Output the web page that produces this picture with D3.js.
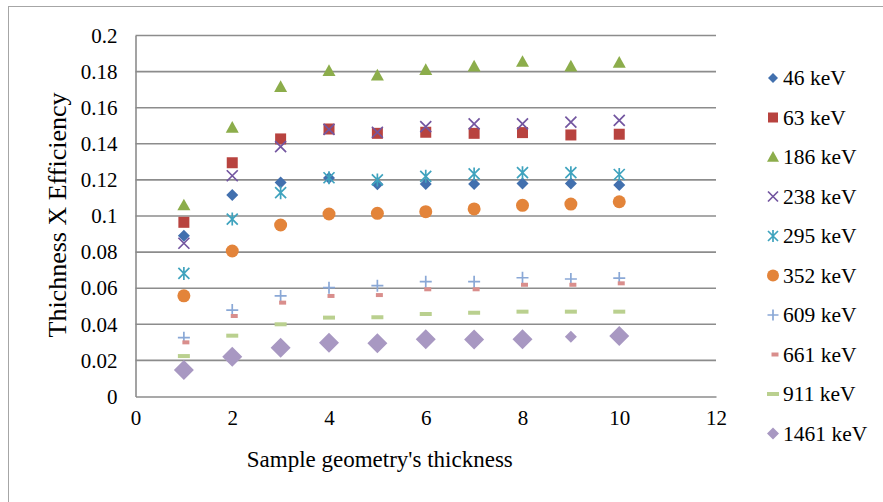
<!DOCTYPE html>
<html>
<head>
<meta charset="utf-8">
<script src="https://cdn.jsdelivr.net/npm/d3@7"></script>
<style>
  body { margin: 0; background: #fff; }
  svg text { font-family: "Liberation Serif", serif; fill: #000; }
</style>
</head>
<body>
<svg id="chartArea" width="883" height="502"></svg>
<script>
// thickness values (x)
const thickness = [1, 2, 3, 4, 5, 6, 7, 8, 9, 10];

// thickness x efficiency per gamma line
const kev46   = [0.0890, 0.1116, 0.1185, 0.1210, 0.1176, 0.1177, 0.1177, 0.1180, 0.1180, 0.1172];
const kev63   = [0.0965, 0.1295, 0.1427, 0.1482, 0.1458, 0.1464, 0.1458, 0.1462, 0.1449, 0.1453];
const kev186  = [0.1060, 0.1490, 0.1716, 0.1805, 0.1780, 0.1810, 0.1830, 0.1855, 0.1830, 0.1850];
const kev238  = [0.0849, 0.1223, 0.1384, 0.1480, 0.1464, 0.1495, 0.1510, 0.1510, 0.1520, 0.1530];
const kev295  = [0.0682, 0.0983, 0.1129, 0.1212, 0.1200, 0.1220, 0.1233, 0.1240, 0.1240, 0.1230];
const kev352  = [0.0558, 0.0806, 0.0950, 0.1011, 0.1015, 0.1024, 0.1039, 0.1059, 0.1066, 0.1079];
const kev609  = [0.0326, 0.0479, 0.0557, 0.0603, 0.0614, 0.0636, 0.0636, 0.0658, 0.0651, 0.0656];
const kev661  = [0.0300, 0.0446, 0.0520, 0.0557, 0.0562, 0.0594, 0.0594, 0.0619, 0.0619, 0.0627];
const kev911  = [0.0224, 0.0337, 0.0400, 0.0437, 0.0439, 0.0457, 0.0464, 0.0470, 0.0470, 0.0470];
const kev1461 = [0.0147, 0.0220, 0.0270, 0.0298, 0.0295, 0.0317, 0.0316, 0.0317, 0.0331, 0.0335];

const seriesNames = ["46 keV", "63 keV", "186 keV", "238 keV", "295 keV",
                     "352 keV", "609 keV", "661 keV", "911 keV", "1461 keV"];
const seriesValues = [kev46, kev63, kev186, kev238, kev295, kev352, kev609, kev661, kev911, kev1461];

const xTicks = [0, 2, 4, 6, 8, 10, 12];
const yTicks = [0, 0.02, 0.04, 0.06, 0.08, 0.1, 0.12, 0.14, 0.16, 0.18, 0.2];

const xTitle = "Sample geometry's thickness";
const yTitle = "Thichness X Efficiency";

// marker style per series
const styles = [
  {shape: "diamond",  color: "#4270AE", size: 6},
  {shape: "square",   color: "#B8433F", size: 5.5},
  {shape: "triangle", color: "#8CAD4B", size: 6.5},
  {shape: "cross",    color: "#7356A0", size: 5.5},
  {shape: "star",     color: "#3FA3BE", size: 5.5},
  {shape: "circle",   color: "#E3843A", size: 6.5},
  {shape: "plus",     color: "#8AA8D6", size: 6},
  {shape: "dash",     color: "#D98E8C", size: 3.5},
  {shape: "dashwide", color: "#BAD08F", size: 6},
  {shape: "diamond",  color: "#A898C2", size: 10}
];

const serif = "Liberation Serif";
const svg = d3.select("#chartArea");

// outer chart frame (runs off the picture at right and bottom)
svg.append("rect")
    .attr("x", 8.5).attr("y", 6.5)
    .attr("width", 1000).attr("height", 1000)
    .attr("fill", "none")
    .attr("stroke", "#A6A6A6")
    .attr("stroke-width", 1);

const plot = {left: 135.5, right: 716, top: 35.5, bottom: 396.5};

const x = d3.scaleLinear().domain([0, 12]).range([plot.left, plot.right]);
const y = d3.scaleLinear().domain([0, 0.2]).range([plot.bottom, plot.top]);

// gridlines
svg.append("g")
    .selectAll("line")
    .data(yTicks.filter(d => d > 0))
    .enter().append("line")
    .attr("x1", plot.left).attr("x2", plot.right)
    .attr("y1", d => y(d)).attr("y2", d => y(d))
    .attr("stroke", "#8C8C8C")
    .attr("stroke-width", 1.6);

// axes
let xAxis = svg.append("g")
    .attr("transform", `translate(0, ${plot.bottom})`)
    .call(d3.axisBottom(x).tickValues(xTicks).tickSize(0).tickPadding(14).tickFormat(d3.format("d")));
let yAxis = svg.append("g")
    .attr("transform", `translate(${plot.left}, 0)`)
    .call(d3.axisLeft(y).tickValues(yTicks).tickSize(0).tickPadding(18).tickFormat(d => d === 0 ? "0" : String(+d.toFixed(2))));

[xAxis, yAxis].forEach(a => {
    a.attr("font-family", serif).attr("font-size", 21);
    a.select(".domain").attr("stroke", "#8C8C8C").attr("stroke-width", 1.6);
    a.selectAll("text").attr("font-family", serif).attr("font-size", 21);
});

svg.append("text")
    .attr("x", x(5.05)).attr("y", 467)
    .attr("text-anchor", "middle")
    .attr("font-family", serif)
    .attr("font-size", 23)
    .text(xTitle);

svg.append("text")
    .attr("transform", `translate(66, ${y(0.1) - 1})rotate(-90)`)
    .attr("text-anchor", "middle")
    .attr("font-family", serif)
    .attr("font-size", 26)
    .text(yTitle);

function markerPath(shape, s) {
    switch (shape) {
        case "diamond": return `M0,${-s}L${s},0L0,${s}L${-s},0Z`;
        case "square": return `M${-s},${-s}H${s}V${s}H${-s}Z`;
        case "triangle": return `M0,${-s}L${s},${s * 0.8}H${-s}Z`;
        case "circle": return d3.arc()({innerRadius: 0, outerRadius: s, startAngle: 0, endAngle: 2 * Math.PI});
        case "cross": return `M${-s},${-s}L${s},${s}M${s},${-s}L${-s},${s}`;
        case "star": return `M${-s},${-s}L${s},${s}M${s},${-s}L${-s},${s}M0,${-s - 1}V${s + 1}`;
        case "plus": return `M${-s},0H${s}M0,${-s}V${s}`;
        case "dash": return `M${-s + 2},-2H${s + 2}V2H${-s + 2}Z`;
        case "dashwide": return `M${-s},-2H${s}V2H${-s}Z`;
    }
}

function drawMarker(sel, st, s) {
    let stroked = st.shape === "cross" || st.shape === "star" || st.shape === "plus";
    sel.append("path")
        .attr("d", markerPath(st.shape, s))
        .attr("fill", stroked ? "none" : st.color)
        .attr("stroke", stroked ? st.color : "none")
        .attr("stroke-width", stroked ? 1.7 : 0);
}

// the 9th point of 1461 keV is drawn with a smaller marker in the original
const smallMarkerAt = {"1461 keV": [9]};

seriesNames.forEach((name, i) => {
    let st = styles[i];
    let pts = thickness.map((t, j) => ({t: t, v: seriesValues[i][j]}));
    svg.append("g").selectAll("g")
        .data(pts)
        .enter().append("g")
        .attr("transform", d => `translate(${x(d.t)}, ${y(d.v)})`)
        .each(function(d) {
            let small = (smallMarkerAt[name] || []).includes(d.t);
            drawMarker(d3.select(this), st, small ? 6 : st.size);
        });
});

// legend
const legendSizes = [5, 5, 6, 5, 5, 6, 5.5, 3.5, 6, 6];
let legend = svg.selectAll(".legend")
    .data(seriesNames)
    .enter().append("g")
    .attr("transform", (d, i) => `translate(773, ${78 + i * 39.5})`);

legend.each(function(d, i) {
    drawMarker(d3.select(this), styles[i], legendSizes[i]);
});

legend.append("text")
    .attr("x", 10)
    .attr("y", 7)
    .attr("font-family", serif)
    .attr("font-size", 21.5)
    .text(d => d);
</script>
</body>
</html>
